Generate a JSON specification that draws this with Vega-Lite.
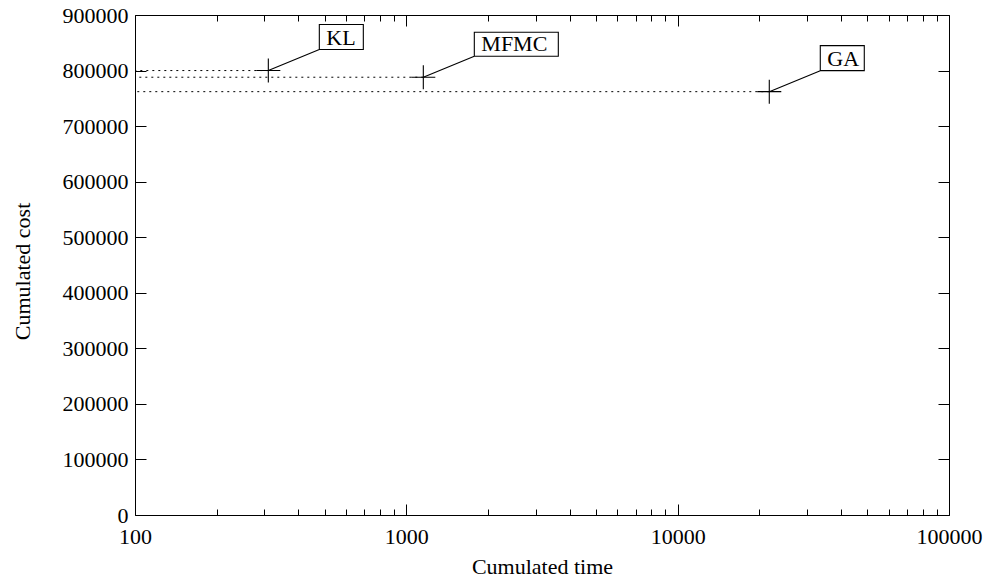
{
  "$schema": "https://vega.github.io/schema/vega-lite/v6.json",
  "width": 814,
  "height": 500,
  "autosize": {"type": "none"},
  "padding": {"left": 135, "top": 15, "right": 41, "bottom": 68},
  "background": "white",
  "config": {
    "view": {"stroke": "black", "strokeWidth": 1},
    "font": "Liberation Serif",
    "axis": {
      "domain": false,
      "grid": false,
      "tickColor": "black",
      "tickWidth": 1,
      "labelColor": "black",
      "labelFont": "Liberation Serif",
      "labelFontSize": 22,
      "titleFont": "Liberation Serif",
      "titleFontSize": 22,
      "titleFontWeight": "normal",
      "titleColor": "black"
    }
  },
  "data": {
    "values": [
      {"label": "KL", "time": 310, "cost": 800000},
      {"label": "MFMC", "time": 1155, "cost": 788000},
      {"label": "GA", "time": 21760, "cost": 762000}
    ]
  },
  "resolve": {"axis": {"x": "independent", "y": "independent"}},
  "layer": [
    {
      "mark": {"type": "rule", "color": "black", "strokeWidth": 1, "strokeDash": [2, 4]},
      "encoding": {
        "x": {
          "field": "time",
          "type": "quantitative",
          "scale": {"type": "log", "domain": [100, 100000]},
          "axis": {
            "orient": "bottom",
            "values": [100, 1000, 10000, 100000],
            "format": "d",
            "tickSize": -11,
            "labelPadding": 22,
            "labelFlush": false,
            "labelOverlap": false,
            "title": "Cumulated time",
            "titleY": 58,
            "titleBaseline": "alphabetic"
          }
        },
        "x2": {"datum": 100},
        "y": {
          "field": "cost",
          "type": "quantitative",
          "scale": {"domain": [0, 900000], "nice": false, "zero": true},
          "axis": {
            "orient": "left",
            "values": [0, 100000, 200000, 300000, 400000, 500000, 600000, 700000, 800000, 900000],
            "format": "d",
            "tickSize": -11,
            "labelPadding": 18,
            "labelFlush": false,
            "labelOverlap": false,
            "title": "Cumulated cost",
            "titleX": -113,
            "titleY": 256,
            "titleAngle": -90,
            "titleBaseline": "middle",
            "titleAlign": "center"
          }
        }
      }
    },
    {
      "mark": {"type": "point", "filled": false, "color": "black", "strokeWidth": 1.1, "opacity": 1, "size": 4, "shape": "M-12,0L12,0M0,-12L0,12"},
      "encoding": {
        "x": {
          "field": "time",
          "type": "quantitative",
          "axis": {"orient": "top", "values": [100, 1000, 10000, 100000], "labels": false, "tickSize": -11, "title": null}
        },
        "y": {
          "field": "cost",
          "type": "quantitative",
          "axis": {
            "orient": "right",
            "values": [0, 100000, 200000, 300000, 400000, 500000, 600000, 700000, 800000, 900000],
            "labels": false,
            "tickSize": -11,
            "title": null
          }
        }
      }
    },
    {
      "mark": {"type": "point", "filled": false, "color": "black", "strokeWidth": 1.1, "opacity": 1, "size": 4},
      "encoding": {
        "x": {
          "field": "time",
          "type": "quantitative",
          "axis": {
            "orient": "bottom",
            "values": [200, 300, 400, 500, 600, 700, 800, 900, 2000, 3000, 4000, 5000, 6000, 7000, 8000, 9000, 20000, 30000, 40000, 50000, 60000, 70000, 80000, 90000],
            "labels": false,
            "tickSize": -6,
            "title": null
          }
        },
        "y": {"field": "cost", "type": "quantitative", "axis": {"orient": "left", "labels": false, "ticks": false, "values": [], "title": null}},
        "shape": {
          "field": "label",
          "type": "nominal",
          "legend": null,
          "scale": {
            "domain": ["KL", "MFMC", "GA"],
            "range": [
              "M0,0L51,-21M51,-21L95,-21L95,-46L51,-46Z",
              "M0,0L51,-21M51,-21L135,-21L135,-45L51,-45Z",
              "M0,0L51,-21M51,-21L95,-21L95,-46L51,-46Z"
            ]
          }
        }
      }
    },
    {
      "mark": {"type": "text", "align": "left", "baseline": "middle", "dx": 58, "dy": -33, "font": "Liberation Serif", "fontSize": 22, "color": "black"},
      "encoding": {
        "x": {
          "field": "time",
          "type": "quantitative",
          "axis": {
            "orient": "top",
            "values": [200, 300, 400, 500, 600, 700, 800, 900, 2000, 3000, 4000, 5000, 6000, 7000, 8000, 9000, 20000, 30000, 40000, 50000, 60000, 70000, 80000, 90000],
            "labels": false,
            "tickSize": -6,
            "title": null
          }
        },
        "y": {"field": "cost", "type": "quantitative", "axis": {"orient": "right", "labels": false, "ticks": false, "values": [], "title": null}},
        "text": {"field": "label"}
      }
    }
  ]
}
